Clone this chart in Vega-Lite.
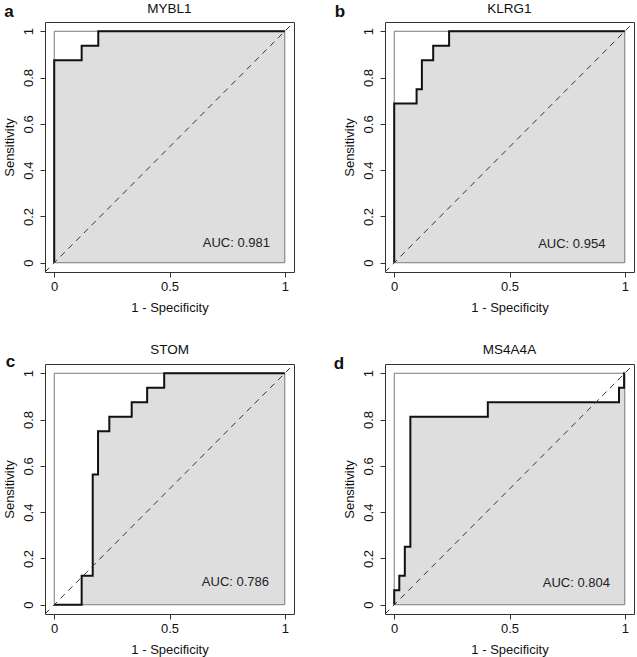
{
  "$schema": "https://vega.github.io/schema/vega-lite/v6.json",
  "background": "white",
  "padding": {"left": 2, "top": 1, "right": 0, "bottom": 0},
  "datasets": {
    "roc": [
      {"panel": "a", "idx": 0, "fpr": 0, "tpr": 0},
      {"panel": "a", "idx": 1, "fpr": 0, "tpr": 0.875},
      {"panel": "a", "idx": 2, "fpr": 0.119, "tpr": 0.875},
      {"panel": "a", "idx": 3, "fpr": 0.119, "tpr": 0.9375},
      {"panel": "a", "idx": 4, "fpr": 0.191, "tpr": 0.9375},
      {"panel": "a", "idx": 5, "fpr": 0.191, "tpr": 1},
      {"panel": "a", "idx": 6, "fpr": 1, "tpr": 1},
      {"panel": "b", "idx": 0, "fpr": 0, "tpr": 0},
      {"panel": "b", "idx": 1, "fpr": 0, "tpr": 0.6875},
      {"panel": "b", "idx": 2, "fpr": 0.097, "tpr": 0.6875},
      {"panel": "b", "idx": 3, "fpr": 0.097, "tpr": 0.75},
      {"panel": "b", "idx": 4, "fpr": 0.12, "tpr": 0.75},
      {"panel": "b", "idx": 5, "fpr": 0.12, "tpr": 0.875},
      {"panel": "b", "idx": 6, "fpr": 0.169, "tpr": 0.875},
      {"panel": "b", "idx": 7, "fpr": 0.169, "tpr": 0.9375},
      {"panel": "b", "idx": 8, "fpr": 0.238, "tpr": 0.9375},
      {"panel": "b", "idx": 9, "fpr": 0.238, "tpr": 1},
      {"panel": "b", "idx": 10, "fpr": 1, "tpr": 1},
      {"panel": "c", "idx": 0, "fpr": 0, "tpr": 0},
      {"panel": "c", "idx": 1, "fpr": 0.119, "tpr": 0},
      {"panel": "c", "idx": 2, "fpr": 0.119, "tpr": 0.125},
      {"panel": "c", "idx": 3, "fpr": 0.167, "tpr": 0.125},
      {"panel": "c", "idx": 4, "fpr": 0.167, "tpr": 0.5625},
      {"panel": "c", "idx": 5, "fpr": 0.19, "tpr": 0.5625},
      {"panel": "c", "idx": 6, "fpr": 0.19, "tpr": 0.75},
      {"panel": "c", "idx": 7, "fpr": 0.239, "tpr": 0.75},
      {"panel": "c", "idx": 8, "fpr": 0.239, "tpr": 0.8125},
      {"panel": "c", "idx": 9, "fpr": 0.336, "tpr": 0.8125},
      {"panel": "c", "idx": 10, "fpr": 0.336, "tpr": 0.875},
      {"panel": "c", "idx": 11, "fpr": 0.403, "tpr": 0.875},
      {"panel": "c", "idx": 12, "fpr": 0.403, "tpr": 0.9375},
      {"panel": "c", "idx": 13, "fpr": 0.477, "tpr": 0.9375},
      {"panel": "c", "idx": 14, "fpr": 0.477, "tpr": 1},
      {"panel": "c", "idx": 15, "fpr": 1, "tpr": 1},
      {"panel": "d", "idx": 0, "fpr": 0, "tpr": 0},
      {"panel": "d", "idx": 1, "fpr": 0, "tpr": 0.0625},
      {"panel": "d", "idx": 2, "fpr": 0.022, "tpr": 0.0625},
      {"panel": "d", "idx": 3, "fpr": 0.022, "tpr": 0.125},
      {"panel": "d", "idx": 4, "fpr": 0.046, "tpr": 0.125},
      {"panel": "d", "idx": 5, "fpr": 0.046, "tpr": 0.25},
      {"panel": "d", "idx": 6, "fpr": 0.07, "tpr": 0.25},
      {"panel": "d", "idx": 7, "fpr": 0.07, "tpr": 0.8125},
      {"panel": "d", "idx": 8, "fpr": 0.406, "tpr": 0.8125},
      {"panel": "d", "idx": 9, "fpr": 0.406, "tpr": 0.875},
      {"panel": "d", "idx": 10, "fpr": 0.975, "tpr": 0.875},
      {"panel": "d", "idx": 11, "fpr": 0.975, "tpr": 0.9375},
      {"panel": "d", "idx": 12, "fpr": 0.997, "tpr": 0.9375},
      {"panel": "d", "idx": 13, "fpr": 0.997, "tpr": 1},
      {"panel": "d", "idx": 14, "fpr": 1, "tpr": 1}
    ],
    "panels": [
      {"panel": "a", "gene": "MYBL1", "auc": 0.981},
      {"panel": "b", "gene": "KLRG1", "auc": 0.954},
      {"panel": "c", "gene": "STOM", "auc": 0.786},
      {"panel": "d", "gene": "MS4A4A", "auc": 0.804}
    ]
  },
  "columns": 2,
  "spacing": {"row": 27, "column": 38},
  "concat": [
    {
      "width": 249, "height": 250,
      "layer": [
        {"data": {"name": "roc"}, "transform": [{"filter": "datum.panel == 'a'"}],
         "mark": {"type": "area", "color": "#dedede"},
         "encoding": {
           "x": {"field": "fpr", "type": "quantitative", "scale": {"domain": [-0.04, 1.04], "nice": false, "zero": false}, "axis": {"values": [0, 0.5, 1], "format": "~g", "title": "1 - Specificity"}},
           "y": {"field": "tpr", "type": "quantitative", "stack": null, "scale": {"domain": [-0.04, 1.04], "nice": false, "zero": false}, "axis": {"values": [0, 0.2, 0.4, 0.6, 0.8, 1], "format": "~g", "title": "Sensitivity"}}}},
        {"data": {"name": "panels"}, "transform": [{"filter": "datum.panel == 'a'"}],
         "mark": {"type": "rect", "filled": false, "stroke": "#7a7a7a", "strokeWidth": 1},
         "encoding": {"x": {"datum": 0}, "x2": {"datum": 1}, "y": {"datum": 0}, "y2": {"datum": 1}}},
        {"data": {"name": "roc"}, "transform": [{"filter": "datum.panel == 'a'"}],
         "mark": {"type": "line", "color": "#111", "strokeWidth": 2},
         "encoding": {"x": {"field": "fpr", "type": "quantitative"}, "y": {"field": "tpr", "type": "quantitative"}, "order": {"field": "idx", "type": "quantitative"}}},
        {"data": {"name": "panels"}, "transform": [{"filter": "datum.panel == 'a'"}],
         "mark": {"type": "rule", "color": "#333", "strokeWidth": 1, "strokeDash": [6, 5]},
         "encoding": {"x": {"datum": -0.04}, "x2": {"datum": 1.04}, "y": {"datum": -0.04}, "y2": {"datum": 1.04}}},
        {"data": {"name": "panels"}, "transform": [{"filter": "datum.panel == 'a'"}, {"calculate": "'AUC: ' + format(datum.auc, '.3f')", "as": "label"}],
         "mark": {"type": "text", "fontSize": 13, "color": "#222", "align": "center", "baseline": "middle"},
         "encoding": {"x": {"datum": 0.79}, "y": {"datum": 0.085}, "text": {"field": "label"}}},
        {"data": {"name": "panels"}, "transform": [{"filter": "datum.panel == 'a'"}],
         "mark": {"type": "text", "fontSize": 13.5, "color": "#111", "align": "center", "baseline": "alphabetic"},
         "encoding": {"x": {"datum": 0.5}, "y": {"datum": 1.079}, "text": {"field": "gene"}}},
        {"data": {"name": "panels"}, "transform": [{"filter": "datum.panel == 'a'"}],
         "mark": {"type": "text", "fontSize": 17, "fontWeight": "bold", "color": "#111", "align": "center", "baseline": "alphabetic"},
         "encoding": {"x": {"datum": -0.196}, "y": {"datum": 1.062}, "text": {"field": "panel"}}}
      ]
    },
    {
      "width": 249, "height": 250,
      "layer": [
        {"data": {"name": "roc"}, "transform": [{"filter": "datum.panel == 'b'"}],
         "mark": {"type": "area", "color": "#dedede"},
         "encoding": {
           "x": {"field": "fpr", "type": "quantitative", "scale": {"domain": [-0.04, 1.04], "nice": false, "zero": false}, "axis": {"values": [0, 0.5, 1], "format": "~g", "title": "1 - Specificity"}},
           "y": {"field": "tpr", "type": "quantitative", "stack": null, "scale": {"domain": [-0.04, 1.04], "nice": false, "zero": false}, "axis": {"values": [0, 0.2, 0.4, 0.6, 0.8, 1], "format": "~g", "title": "Sensitivity"}}}},
        {"data": {"name": "panels"}, "transform": [{"filter": "datum.panel == 'b'"}],
         "mark": {"type": "rect", "filled": false, "stroke": "#7a7a7a", "strokeWidth": 1},
         "encoding": {"x": {"datum": 0}, "x2": {"datum": 1}, "y": {"datum": 0}, "y2": {"datum": 1}}},
        {"data": {"name": "roc"}, "transform": [{"filter": "datum.panel == 'b'"}],
         "mark": {"type": "line", "color": "#111", "strokeWidth": 2},
         "encoding": {"x": {"field": "fpr", "type": "quantitative"}, "y": {"field": "tpr", "type": "quantitative"}, "order": {"field": "idx", "type": "quantitative"}}},
        {"data": {"name": "panels"}, "transform": [{"filter": "datum.panel == 'b'"}],
         "mark": {"type": "rule", "color": "#333", "strokeWidth": 1, "strokeDash": [6, 5]},
         "encoding": {"x": {"datum": -0.04}, "x2": {"datum": 1.04}, "y": {"datum": -0.04}, "y2": {"datum": 1.04}}},
        {"data": {"name": "panels"}, "transform": [{"filter": "datum.panel == 'b'"}, {"calculate": "'AUC: ' + format(datum.auc, '.3f')", "as": "label"}],
         "mark": {"type": "text", "fontSize": 13, "color": "#222", "align": "center", "baseline": "middle"},
         "encoding": {"x": {"datum": 0.77}, "y": {"datum": 0.08}, "text": {"field": "label"}}},
        {"data": {"name": "panels"}, "transform": [{"filter": "datum.panel == 'b'"}],
         "mark": {"type": "text", "fontSize": 13.5, "color": "#111", "align": "center", "baseline": "alphabetic"},
         "encoding": {"x": {"datum": 0.5}, "y": {"datum": 1.079}, "text": {"field": "gene"}}},
        {"data": {"name": "panels"}, "transform": [{"filter": "datum.panel == 'b'"}],
         "mark": {"type": "text", "fontSize": 17, "fontWeight": "bold", "color": "#111", "align": "center", "baseline": "alphabetic"},
         "encoding": {"x": {"datum": -0.235}, "y": {"datum": 1.062}, "text": {"field": "panel"}}}
      ]
    },
    {
      "width": 249, "height": 250,
      "layer": [
        {"data": {"name": "roc"}, "transform": [{"filter": "datum.panel == 'c'"}],
         "mark": {"type": "area", "color": "#dedede"},
         "encoding": {
           "x": {"field": "fpr", "type": "quantitative", "scale": {"domain": [-0.04, 1.04], "nice": false, "zero": false}, "axis": {"values": [0, 0.5, 1], "format": "~g", "title": "1 - Specificity"}},
           "y": {"field": "tpr", "type": "quantitative", "stack": null, "scale": {"domain": [-0.04, 1.04], "nice": false, "zero": false}, "axis": {"values": [0, 0.2, 0.4, 0.6, 0.8, 1], "format": "~g", "title": "Sensitivity"}}}},
        {"data": {"name": "panels"}, "transform": [{"filter": "datum.panel == 'c'"}],
         "mark": {"type": "rect", "filled": false, "stroke": "#7a7a7a", "strokeWidth": 1},
         "encoding": {"x": {"datum": 0}, "x2": {"datum": 1}, "y": {"datum": 0}, "y2": {"datum": 1}}},
        {"data": {"name": "roc"}, "transform": [{"filter": "datum.panel == 'c'"}],
         "mark": {"type": "line", "color": "#111", "strokeWidth": 2},
         "encoding": {"x": {"field": "fpr", "type": "quantitative"}, "y": {"field": "tpr", "type": "quantitative"}, "order": {"field": "idx", "type": "quantitative"}}},
        {"data": {"name": "panels"}, "transform": [{"filter": "datum.panel == 'c'"}],
         "mark": {"type": "rule", "color": "#333", "strokeWidth": 1, "strokeDash": [6, 5]},
         "encoding": {"x": {"datum": -0.04}, "x2": {"datum": 1.04}, "y": {"datum": -0.04}, "y2": {"datum": 1.04}}},
        {"data": {"name": "panels"}, "transform": [{"filter": "datum.panel == 'c'"}, {"calculate": "'AUC: ' + format(datum.auc, '.3f')", "as": "label"}],
         "mark": {"type": "text", "fontSize": 13, "color": "#222", "align": "center", "baseline": "middle"},
         "encoding": {"x": {"datum": 0.786}, "y": {"datum": 0.1}, "text": {"field": "label"}}},
        {"data": {"name": "panels"}, "transform": [{"filter": "datum.panel == 'c'"}],
         "mark": {"type": "text", "fontSize": 13.5, "color": "#111", "align": "center", "baseline": "alphabetic"},
         "encoding": {"x": {"datum": 0.5}, "y": {"datum": 1.083}, "text": {"field": "gene"}}},
        {"data": {"name": "panels"}, "transform": [{"filter": "datum.panel == 'c'"}],
         "mark": {"type": "text", "fontSize": 17, "fontWeight": "bold", "color": "#111", "align": "center", "baseline": "alphabetic"},
         "encoding": {"x": {"datum": -0.19}, "y": {"datum": 1.027}, "text": {"field": "panel"}}}
      ]
    },
    {
      "width": 249, "height": 250,
      "layer": [
        {"data": {"name": "roc"}, "transform": [{"filter": "datum.panel == 'd'"}],
         "mark": {"type": "area", "color": "#dedede"},
         "encoding": {
           "x": {"field": "fpr", "type": "quantitative", "scale": {"domain": [-0.04, 1.04], "nice": false, "zero": false}, "axis": {"values": [0, 0.5, 1], "format": "~g", "title": "1 - Specificity"}},
           "y": {"field": "tpr", "type": "quantitative", "stack": null, "scale": {"domain": [-0.04, 1.04], "nice": false, "zero": false}, "axis": {"values": [0, 0.2, 0.4, 0.6, 0.8, 1], "format": "~g", "title": "Sensitivity"}}}},
        {"data": {"name": "panels"}, "transform": [{"filter": "datum.panel == 'd'"}],
         "mark": {"type": "rect", "filled": false, "stroke": "#7a7a7a", "strokeWidth": 1},
         "encoding": {"x": {"datum": 0}, "x2": {"datum": 1}, "y": {"datum": 0}, "y2": {"datum": 1}}},
        {"data": {"name": "roc"}, "transform": [{"filter": "datum.panel == 'd'"}],
         "mark": {"type": "line", "color": "#111", "strokeWidth": 2},
         "encoding": {"x": {"field": "fpr", "type": "quantitative"}, "y": {"field": "tpr", "type": "quantitative"}, "order": {"field": "idx", "type": "quantitative"}}},
        {"data": {"name": "panels"}, "transform": [{"filter": "datum.panel == 'd'"}],
         "mark": {"type": "rule", "color": "#333", "strokeWidth": 1, "strokeDash": [6, 5]},
         "encoding": {"x": {"datum": -0.04}, "x2": {"datum": 1.04}, "y": {"datum": -0.04}, "y2": {"datum": 1.04}}},
        {"data": {"name": "panels"}, "transform": [{"filter": "datum.panel == 'd'"}, {"calculate": "'AUC: ' + format(datum.auc, '.3f')", "as": "label"}],
         "mark": {"type": "text", "fontSize": 13, "color": "#222", "align": "center", "baseline": "middle"},
         "encoding": {"x": {"datum": 0.79}, "y": {"datum": 0.092}, "text": {"field": "label"}}},
        {"data": {"name": "panels"}, "transform": [{"filter": "datum.panel == 'd'"}],
         "mark": {"type": "text", "fontSize": 13.5, "color": "#111", "align": "center", "baseline": "alphabetic"},
         "encoding": {"x": {"datum": 0.5}, "y": {"datum": 1.083}, "text": {"field": "gene"}}},
        {"data": {"name": "panels"}, "transform": [{"filter": "datum.panel == 'd'"}],
         "mark": {"type": "text", "fontSize": 17, "fontWeight": "bold", "color": "#111", "align": "center", "baseline": "alphabetic"},
         "encoding": {"x": {"datum": -0.24}, "y": {"datum": 1.02}, "text": {"field": "panel"}}}
      ]
    }
  ],
  "config": {
    "font": "Liberation Sans",
    "view": {"stroke": "#333", "strokeWidth": 1},
    "axis": {
      "domain": false, "grid": false,
      "tickColor": "#333", "tickSize": 5, "tickWidth": 1,
      "labelFont": "Liberation Sans", "labelFontSize": 13, "labelColor": "#111",
      "titleFont": "Liberation Sans", "titleFontSize": 13, "titleFontWeight": "normal", "titleColor": "#111",
      "labelFlush": false, "labelOverlap": false
    },
    "axisX": {"labelPadding": 3, "titlePadding": 8},
    "axisY": {"labelAngle": -90, "labelPadding": 5, "titlePadding": 6}
  }
}
